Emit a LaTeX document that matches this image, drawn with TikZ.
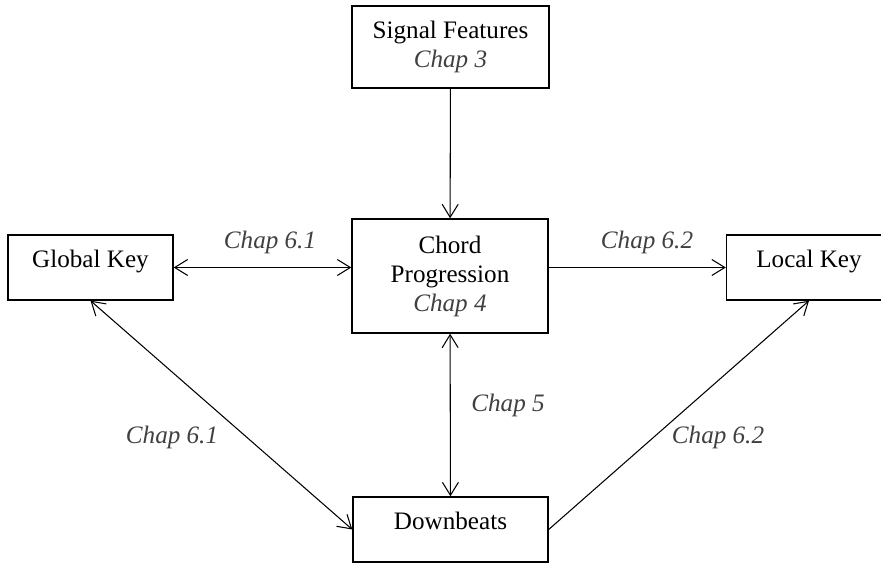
\documentclass[tikz,border=0pt]{standalone}
\usepackage{fontspec}
\setmainfont{Liberation Serif}
\usepackage{tikz}
\usetikzlibrary{arrows.meta}
\definecolor{chapgray}{RGB}{64,64,64}

\begin{document}
\begin{tikzpicture}[>={Straight Barb[length=2.6mm,width=3.2mm]},
  box/.style={draw, line width=0.8pt, inner sep=0pt, align=center,
    font=\fontsize{14.3}{16.5}\selectfont},
  keybox/.style={box, minimum width=3.3cm, minimum height=1.3cm,
    text height=0.3cm, text depth=0.3cm},
  chap/.style={inner sep=0pt, text=chapgray,
    font=\fontsize{14.3}{16.5}\selectfont\itshape},
  link/.style={line width=0.6pt}]
  \useasboundingbox (0,0) rectangle (17.62,11.26);
  % boxes
  \node (sig) at (9.01,10.32) [box, minimum width=3.94cm, minimum height=1.64cm]
    {Signal Features\\{\itshape\color{chapgray}Chap 3}};
  \node (chord) at (9.00,5.74) [box, minimum width=3.92cm, minimum height=2.28cm]
    {Chord\\Progression\\{\itshape\color{chapgray}Chap 4}};
  \node (gkey) at (1.81,5.91) [keybox] {Global Key};
  \node (lkey) at (16.18,5.91) [keybox] {Local Key};
  \node (down) at (9.01,0.67) [keybox, minimum width=3.9cm] {Downbeats};
  % links
  \draw [link, ->] (sig) -- (chord);
  \draw [link, <->] (gkey.east) -- (gkey.east -| chord.west);
  \draw [link, ->] (gkey.east -| chord.east) -- (lkey.west);
  \draw [link, <->] (chord) -- (down);
  \draw [link, <->] (gkey.south) -- (down.west);
  \draw [link, ->] (down.east) -- (lkey.south);
  % labels
  \node (c61a) at (5.40,6.42) [chap] {Chap 6.1};
  \node (c62a) at (12.94,6.42) [chap] {Chap 6.2};
  \node (c5) at (10.16,3.16) [chap] {Chap 5};
  \node (c61b) at (3.44,2.52) [chap] {Chap 6.1};
  \node (c62b) at (14.36,2.52) [chap] {Chap 6.2};
\end{tikzpicture}
\end{document}
